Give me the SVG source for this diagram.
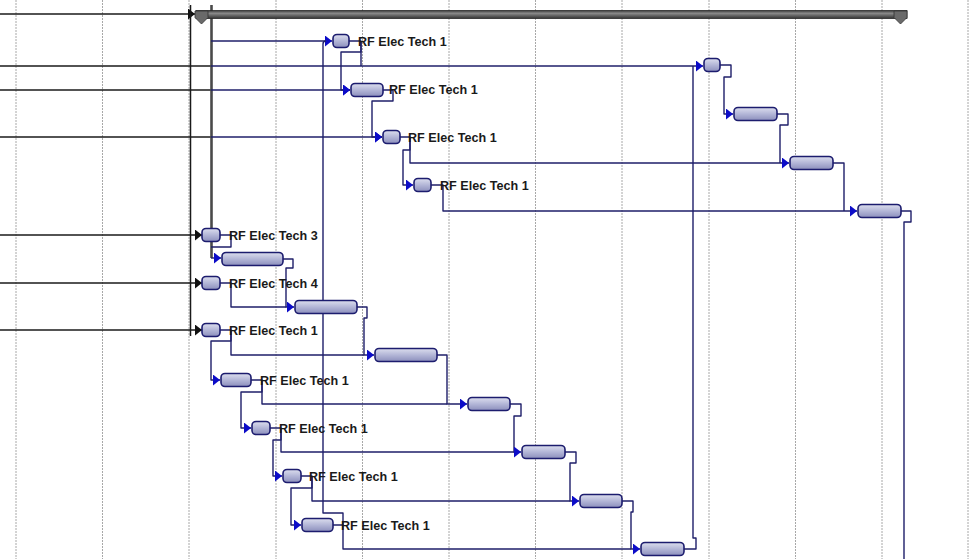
<svg xmlns="http://www.w3.org/2000/svg" width="971" height="559" viewBox="0 0 971 559">
<style>
.grid{stroke:#a8a8a8;stroke-width:1;stroke-dasharray:2 1;fill:none}
.bar{fill:url(#barg);stroke:#1c1c6e;stroke-width:1.6}
.lbl{font-family:"Liberation Sans",Arial,sans-serif;font-weight:bold;font-size:12.6px;fill:#1a1a1a}
.cn{fill:none;stroke:#1f1f6a;stroke-width:1.4;stroke-linejoin:round}
.ca{fill:none;stroke:#1f1f6a;stroke-width:1.4;stroke-linejoin:round;marker-end:url(#ab)}
.bk{fill:none;stroke:#1a1a1a;stroke-width:1.5}
.bka{fill:none;stroke:#1a1a1a;stroke-width:1.5;marker-end:url(#ak)}
</style>
<defs>
<linearGradient id="barg" x1="0" y1="0" x2="0" y2="1">
<stop offset="0" stop-color="#dcdeee"/>
<stop offset="0.5" stop-color="#b3b6d7"/>
<stop offset="1" stop-color="#8c8fbc"/>
</linearGradient>
<linearGradient id="sumg" x1="0" y1="0" x2="0" y2="1">
<stop offset="0" stop-color="#3a3a3a"/>
<stop offset="0.35" stop-color="#8a8a8a"/>
<stop offset="1" stop-color="#333"/>
</linearGradient>
<marker id="ab" markerUnits="userSpaceOnUse" markerWidth="8" markerHeight="11" refX="7" refY="5.5" orient="auto">
<path d="M0,0 L7,5.5 L0,11 Z" fill="#0c0cc8"/>
</marker>
<marker id="ak" markerUnits="userSpaceOnUse" markerWidth="8" markerHeight="11" refX="7" refY="5.5" orient="auto">
<path d="M0,0 L7,5.5 L0,11 Z" fill="#111"/>
</marker>
</defs>
<rect width="971" height="559" fill="#ffffff"/>
<g id="gridlines">
<line class="grid" x1="16" y1="0" x2="16" y2="559"/>
<line class="grid" x1="102.5" y1="0" x2="102.5" y2="559"/>
<line class="grid" x1="189" y1="0" x2="189" y2="559"/>
<line class="grid" x1="276" y1="0" x2="276" y2="559"/>
<line class="grid" x1="362.5" y1="0" x2="362.5" y2="559"/>
<line class="grid" x1="449" y1="0" x2="449" y2="559"/>
<line class="grid" x1="535.5" y1="0" x2="535.5" y2="559"/>
<line class="grid" x1="622" y1="0" x2="622" y2="559"/>
<line class="grid" x1="709" y1="0" x2="709" y2="559"/>
<line class="grid" x1="795.5" y1="0" x2="795.5" y2="559"/>
<line class="grid" x1="882" y1="0" x2="882" y2="559"/>
<line class="grid" x1="968" y1="0" x2="968" y2="559"/>
</g>
<g id="connectors">
<path class="bka" d="M0,14 H195"/>
<path class="bk" d="M0,66 H211"/>
<path class="bk" d="M0,90 H211"/>
<path class="bk" d="M0,137 H211"/>
<path class="bka" d="M0,235 H202"/>
<path class="bka" d="M0,283 H202"/>
<path class="bka" d="M0,330 H202"/>
<path class="bk" d="M190.5,5 V336"/>
<path d="M211.5,5 V258" fill="none" stroke="#4a4a4a" stroke-width="2.6"/>
<path class="ca" d="M211,258 H221"/>
<path class="ca" d="M211,41 H332"/>
<path class="ca" d="M211,66 H703"/>
<path class="ca" d="M211,90 H350"/>
<path class="ca" d="M211,137 H382"/>
<path class="cn" d="M349,41 H361 V66"/>
<path class="ca" d="M361,41 V52 H341 V90 H350"/>
<path class="ca" d="M383,90 H393 V101 H372 V137 H382"/>
<path class="ca" d="M400,137 H410 V163 H789"/>
<path class="ca" d="M410,137 V150 H403 V185 H413"/>
<path class="ca" d="M431,185 H443 V211 H857"/>
<path class="ca" d="M720,65 H731 V77 H724 V114 H733"/>
<path class="cn" d="M777,114 H788 V125 H780 V163"/>
<path class="cn" d="M833,163 H844 V211"/>
<path class="cn" d="M901,211 H911 V222 H904 V559"/>
<path class="cn" d="M220,235 H231 V247 H211"/>
<path class="ca" d="M283,259 H293 V268 H286 V307 H294"/>
<path class="cn" d="M220,283 H231 V307 H286"/>
<path class="ca" d="M357,307 H367 V318 H364 V355 H374"/>
<path class="cn" d="M220,330 H231 V355 H364"/>
<path class="ca" d="M231,330 V341 H211 V380 H220"/>
<path class="ca" d="M437,355 H447 V404 H467"/>
<path class="cn" d="M251,380 H262 V404 H447"/>
<path class="ca" d="M262,380 V392 H241 V428 H251"/>
<path class="ca" d="M510,404 H521 V416 H514 V452 H521"/>
<path class="cn" d="M270,428 H281 V452 H514"/>
<path class="ca" d="M281,428 V440 H273 V476 H282"/>
<path class="ca" d="M565,452 H576 V463 H570 V501 H579"/>
<path class="cn" d="M301,476 H312 V501 H570"/>
<path class="ca" d="M312,476 V488 H291 V525 H301"/>
<path class="ca" d="M622,501 H633 V512 H631 V549 H640"/>
<path class="cn" d="M333,525 H343 V549 H631"/>
<path class="cn" d="M343,525 V513 H323 V44 Q323,41 326,41"/>
<path class="cn" d="M684,549 H696 V538 H693 V66"/>
</g>
<g id="summary">
<rect x="196" y="10.5" width="711" height="8" fill="url(#sumg)" stroke="#2a2a2a" stroke-width="0.8"/>
<path d="M195,11 H208 V17.5 L201.5,24 L195,17.5 Z" fill="#6a6a6a" stroke="#333" stroke-width="0.8"/>
<path d="M894,11 H907 V17.5 L900.5,24 L894,17.5 Z" fill="#6a6a6a" stroke="#333" stroke-width="0.8"/>
</g>
<g id="T1"><rect class="bar" x="333" y="34.5" width="16" height="13" rx="4"/><text class="lbl" x="358" y="46">RF Elec Tech 1</text></g>
<g id="T2"><rect class="bar" x="351" y="83.5" width="32" height="13" rx="4"/><text class="lbl" x="389" y="94">RF Elec Tech 1</text></g>
<g id="T3"><rect class="bar" x="383" y="130.5" width="17" height="13" rx="4"/><text class="lbl" x="408" y="142">RF Elec Tech 1</text></g>
<g id="T4"><rect class="bar" x="414" y="178.5" width="17" height="13" rx="4"/><text class="lbl" x="440" y="190">RF Elec Tech 1</text></g>
<g id="R1"><rect class="bar" x="704" y="58.5" width="16" height="13" rx="4"/></g>
<g id="R2"><rect class="bar" x="734" y="107.5" width="43" height="13" rx="4"/></g>
<g id="R3"><rect class="bar" x="790" y="156.5" width="43" height="13" rx="4"/></g>
<g id="R4"><rect class="bar" x="858" y="204.5" width="43" height="13" rx="4"/></g>
<g id="L1"><rect class="bar" x="202" y="228.5" width="18" height="13" rx="4"/><text class="lbl" x="229" y="240">RF Elec Tech 3</text></g>
<g id="L2"><rect class="bar" x="222" y="252.5" width="61" height="13" rx="4"/></g>
<g id="L3"><rect class="bar" x="202" y="276.5" width="18" height="13" rx="4"/><text class="lbl" x="229" y="288">RF Elec Tech 4</text></g>
<g id="L4"><rect class="bar" x="295" y="300.5" width="62" height="13" rx="4"/></g>
<g id="L5"><rect class="bar" x="202" y="323.5" width="18" height="13" rx="4"/><text class="lbl" x="229" y="335">RF Elec Tech 1</text></g>
<g id="L6"><rect class="bar" x="375" y="348.5" width="62" height="13" rx="4"/></g>
<g id="L7"><rect class="bar" x="221" y="373.5" width="30" height="13" rx="4"/><text class="lbl" x="260" y="385">RF Elec Tech 1</text></g>
<g id="L8"><rect class="bar" x="468" y="397.5" width="42" height="13" rx="4"/></g>
<g id="L9"><rect class="bar" x="252" y="421.5" width="18" height="13" rx="4"/><text class="lbl" x="279" y="433">RF Elec Tech 1</text></g>
<g id="L10"><rect class="bar" x="522" y="445.5" width="43" height="13" rx="4"/></g>
<g id="L11"><rect class="bar" x="283" y="469.5" width="18" height="13" rx="4"/><text class="lbl" x="309" y="481">RF Elec Tech 1</text></g>
<g id="L12"><rect class="bar" x="580" y="494.5" width="42" height="13" rx="4"/></g>
<g id="L13"><rect class="bar" x="302" y="518.5" width="31" height="13" rx="4"/><text class="lbl" x="341" y="530">RF Elec Tech 1</text></g>
<g id="L14"><rect class="bar" x="641" y="542.5" width="43" height="13" rx="4"/></g>
</svg>
